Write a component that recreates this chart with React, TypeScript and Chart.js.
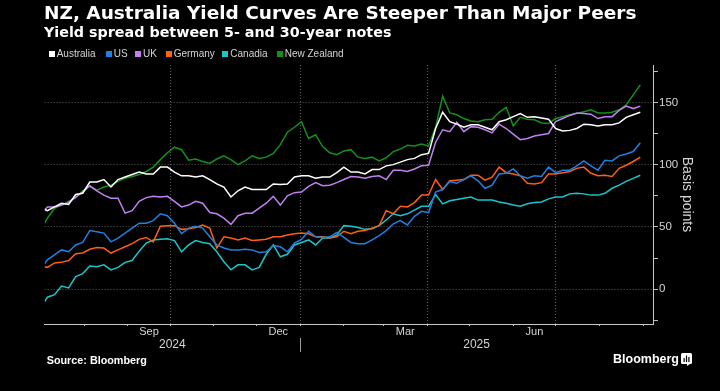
import React, { useEffect, useRef } from 'react';
import { Chart, registerables } from 'chart.js';

Chart.register(...registerables);

// ---- categories: sample day offsets counted from 2024-07-01 ----
const sampleDays: number[] = Array.from({ length: 86 }, (_, i) => (i === 0 ? 3 : i * 5));

// ---- series values (basis points) ----
const australia = [
  64, 63, 66, 69, 68, 76, 77, 86, 86, 88, 82, 88, 90, 92, 94,
  92.5, 92.5, 98, 98, 94, 91, 91, 90, 91, 88, 84.5, 82, 74, 79,
  82, 80, 80, 80, 84.5, 84, 84.5, 90, 91, 91, 89, 90, 90, 93.5,
  98, 94, 94, 92.5, 96, 96, 99, 100, 102, 104, 105, 108, 109, 129,
  142, 134.5, 132.5, 130, 132, 132, 130, 128, 134.5, 136, 138.5, 141, 138, 138.5,
  137.5, 136.5, 129, 127, 127.5, 129, 132.5, 132, 131, 132, 132, 133.5, 138, 140, 142,
];
const us = [
  20.5, 23.5, 27.5, 31.5, 30, 35.5, 37.5, 47, 46, 45, 38, 41, 45, 49, 53,
  53, 55, 60.5, 59, 53, 44.5, 49, 50.5, 49, 42, 35.5, 33, 31.5, 31.5,
  32, 31.5, 29.5, 30, 35, 34, 30, 37, 40, 46.5, 42, 41.5, 42, 45.5,
  41.5, 37.5, 36.5, 36.5, 39.5, 43, 47, 52.5, 55, 51.5, 58.5, 62.5, 61.5, 78,
  80, 86.5, 85, 88, 91, 87, 81, 83.5, 92.5, 93, 96.5, 91, 89, 91,
  90.5, 98, 93.5, 95.5, 95.5, 99, 103, 99, 95.5, 103.5, 103, 107, 108.5, 110.5, 117.5,
];
const uk = [
  63.5, 66, 66, 67.5, 69.5, 74, 78, 83, 79, 75.5, 73, 73, 61, 63, 70.5,
  73.5, 74.5, 74, 74.5, 70.5, 66, 67.5, 70.5, 69, 61.5, 60.5, 57, 52, 59,
  61, 61, 65, 69, 74.5, 67.5, 75, 77.5, 78, 82.5, 85.5, 83, 83.5, 85.5,
  88, 90.5, 90, 89, 90.5, 91, 88, 95.5, 95.5, 94.5, 96.5, 99, 99.5, 118,
  128, 126.5, 134, 126.5, 130.5, 130, 128, 125.5, 132.5, 129, 124.5, 120, 121, 123,
  124, 125, 134.5, 137, 139.5, 141.5, 141, 140.5, 137, 138.5, 138.5, 143.5, 147, 145, 147,
];
const germany = [
  18, 17.5, 21, 21.5, 23, 28.5, 29, 32, 33.5, 33, 29, 31.5, 34, 36.5, 40,
  41.5, 38, 50.5, 51, 51, 48, 48.5, 49.5, 51.5, 49, 33, 42, 41, 39.5,
  41, 39, 39.5, 40, 42, 42, 43.5, 44.5, 45, 44.5, 42, 42, 41, 42,
  46.5, 44.5, 46.5, 47, 49, 51, 63, 60.5, 66.5, 66, 69.5, 75.5, 75.5, 88,
  80, 87, 87.5, 88, 91.5, 91.5, 87.5, 90, 98, 93.5, 92.5, 91, 85, 84.5,
  85.5, 92.5, 92.5, 93.5, 94.5, 97, 98, 93, 91, 91.5, 90.5, 97, 99.5, 102.5, 106,
];
const canada = [
  -10, -6.5, -4.5, 2.5, 1, 10, 12.5, 18.5, 18, 19.5, 15.5, 17.5, 21.5, 23, 30.5,
  37, 39.5, 40, 40.5, 39, 30, 35.5, 39, 37.5, 36.5, 30, 22, 15.5, 19.5,
  19.5, 15.5, 17.5, 28, 35.5, 26, 28, 35.5, 37.5, 39.5, 35.5, 41, 41, 43.5,
  51, 50.5, 49.5, 48, 48.5, 51, 55.5, 60.5, 59, 60.5, 63.5, 66.5, 66.5, 76,
  68.5, 71, 72, 73, 74, 71.5, 71.5, 71.5, 70, 69, 67.5, 66.5, 68.5, 69.5,
  70, 72.5, 74, 74, 76.5, 77, 76.5, 75.5, 75.5, 77, 81, 83.5, 86.5, 89, 91.5,
];
const newZealand = [
  53, 57, 65, 67.5, 70.5, 73, 79, 82.5, 79.5, 82, 83.5, 86.5, 89, 90.5, 92,
  94.5, 98, 104, 109.5, 114, 112, 103.5, 104.5, 102.5, 101, 104.5, 107, 104, 100,
  103, 107, 105, 106, 109, 116, 126, 130, 134.5, 121, 124, 114.5, 109.5, 108,
  111, 112, 106, 105, 106, 103, 105.5, 110.5, 112.5, 115.5, 115, 116.5, 115, 130,
  155, 141.5, 140, 137, 135, 134.5, 136, 136.5, 142, 146, 131, 138, 136.5, 136,
  133.5, 133, 137, 138.5, 140, 141, 142.5, 144, 141.5, 141.5, 142, 144, 148, 156, 164,
];

const seriesNames = ['Australia', 'US', 'UK', 'Germany', 'Canadia', 'New Zealand'];
const seriesValues = [australia, us, uk, germany, canada, newZealand];
const seriesColors = ['#ffffff', '#1f80e0', '#c27ff2', '#ff5e14', '#19c6c9', '#14901c'];

// ---- axis ticks ----
const monthTickDays = [31, 62, 92, 123, 153, 184, 215, 243, 274, 304, 335, 365, 396, 427];
const quarterDays = [92, 184, 274, 365];
const monthLabelDays = [77, 168.5, 258.5, 350];
const monthLabelText = ['Sep', 'Dec', 'Mar', 'Jun'];
const yearLabels = ['2024', '2025'];
const yearLabelDays = [93.5, 309];
const yearBoundaryDay = 184;
const yTickValues = [-25, 0, 25, 50, 75, 100, 125, 150, 175];
const yLabelStep = 50;

const FONT_SANS = '"Liberation Sans", Arial, sans-serif';
const FONT_BOLD = '"DejaVu Sans", "Liberation Sans", sans-serif';
const TEXT_GREY = '#d4d4d4';

const yearPlugin = {
  id: 'yearLabels',
  afterDraw(chart: any) {
    const xs = chart.scales.x;
    const ctx = chart.ctx;
    ctx.save();
    ctx.fillStyle = TEXT_GREY;
    ctx.font = `12px ${FONT_SANS}`;
    ctx.textAlign = 'center';
    ctx.textBaseline = 'middle';
    yearLabels.forEach((t, i) => ctx.fillText(t, xs.getPixelForValue(yearLabelDays[i]), 345));
    const px = Math.round(xs.getPixelForValue(yearBoundaryDay)) + 0.5;
    ctx.strokeStyle = '#9a9a9a';
    ctx.lineWidth = 1;
    ctx.beginPath();
    ctx.moveTo(px, 338);
    ctx.lineTo(px, 352);
    ctx.stroke();
    ctx.restore();
  },
};

function ChartCanvas() {
  const ref = useRef<HTMLCanvasElement | null>(null);
  useEffect(() => {
    if (!ref.current) return;
    const allXTicks = [...monthTickDays, ...monthLabelDays].sort((a, b) => a - b);
    const chart = new Chart(ref.current, {
      type: 'line',
      data: {
        datasets: seriesNames.map((name, k) => ({
          label: name,
          data: sampleDays.map((d, i) => ({ x: d, y: seriesValues[k][i] })),
          borderColor: seriesColors[k],
          backgroundColor: seriesColors[k],
          borderWidth: 1.5,
          pointRadius: 0,
          tension: 0,
          fill: false,
        })),
      },
      options: {
        animation: false,
        responsive: false,
        devicePixelRatio: 1,
        layout: { padding: { left: 44.6, top: 65, right: 0, bottom: 0 } },
        plugins: { legend: { display: false }, tooltip: { enabled: false }, title: { display: false } },
        scales: {
          x: {
            type: 'linear',
            min: 3,
            max: 434,
            afterBuildTicks: (scale: any) => {
              scale.ticks = allXTicks.map((v) => ({ value: v }));
            },
            afterFit: (scale: any) => {
              scale.height = 67;
            },
            ticks: {
              autoSkip: false,
              maxRotation: 0,
              padding: 0,
              color: TEXT_GREY,
              font: { family: FONT_SANS, size: 11, lineHeight: 1 },
              callback: (v: any) => {
                const idx = monthLabelDays.indexOf(Number(v));
                return idx >= 0 ? monthLabelText[idx] : '';
              },
            },
            grid: {
              color: (ctx: any) => (ctx.tick && quarterDays.includes(ctx.tick.value) ? '#5c5c5c' : 'rgba(0,0,0,0)'),
              tickColor: (ctx: any) => (ctx.tick && monthTickDays.includes(ctx.tick.value) ? '#bdbdbd' : 'rgba(0,0,0,0)'),
              tickLength: 2,
              lineWidth: 1,
              tickBorderDash: [],
            },
            border: { display: true, color: '#c8c8c8', width: 1, dash: [1, 2] },
          },
          y: {
            type: 'linear',
            position: 'right',
            min: -28,
            max: 180,
            afterBuildTicks: (scale: any) => {
              scale.ticks = yTickValues.map((v) => ({ value: v }));
            },
            afterFit: (scale: any) => {
              scale.width = 67;
            },
            ticks: {
              autoSkip: false,
              padding: 1,
              color: TEXT_GREY,
              font: { family: FONT_SANS, size: 11.5 },
              callback: (v: any) => (Number(v) % yLabelStep === 0 ? String(v) : ''),
            },
            grid: {
              color: (ctx: any) => (ctx.tick && ctx.tick.value % yLabelStep === 0 ? '#5c5c5c' : 'rgba(0,0,0,0)'),
              tickColor: '#bdbdbd',
              tickLength: 5,
              lineWidth: 1,
              tickBorderDash: [],
            },
            border: { display: true, color: '#c8c8c8', width: 1, dash: [1, 2] },
            title: {
              display: true,
              text: 'Basis points',
              color: TEXT_GREY,
              font: { family: FONT_SANS, size: 14, lineHeight: 1.2 },
              padding: { top: 24.6, bottom: 0 },
            },
          },
        },
      },
      plugins: [yearPlugin],
    } as any);
    return () => chart.destroy();
  }, []);
  return <canvas ref={ref} width={720} height={391} style={{ position: 'absolute', left: 0, top: 0, width: 720, height: 391 }} />;
}

const legendLefts = [48.7, 105.7, 135, 165.7, 222.3, 276.7];

export default function App() {
  return (
    <div style={{ position: 'fixed', left: 0, top: 0, width: 720, height: 391, background: '#000', overflow: 'hidden' }}>
      <ChartCanvas />
      <div
        style={{
          position: 'absolute', left: 44, top: 4.35, fontFamily: FONT_BOLD, fontWeight: 700,
          fontSize: 18.5, lineHeight: '18.5px', color: '#fff', whiteSpace: 'nowrap',
        }}
      >
        NZ, Australia Yield Curves Are Steeper Than Major Peers
      </div>
      <div
        style={{
          position: 'absolute', left: 44, top: 25.2, fontFamily: FONT_BOLD, fontWeight: 700,
          fontSize: 14.3, lineHeight: '14.3px', color: '#fff', whiteSpace: 'nowrap',
        }}
      >
        Yield spread between 5- and 30-year notes
      </div>
      {seriesNames.map((name, k) => (
        <div
          key={name}
          style={{
            position: 'absolute', left: legendLefts[k], top: 49.4, height: 10, display: 'flex',
            alignItems: 'center', whiteSpace: 'nowrap',
          }}
        >
          <span style={{ display: 'inline-block', width: 6, height: 6, background: seriesColors[k], marginRight: 2 }} />
          <span style={{ fontFamily: FONT_SANS, fontSize: 10, lineHeight: '10px', color: TEXT_GREY }}>{name}</span>
        </div>
      ))}
      <div
        style={{
          position: 'absolute', left: 46.7, top: 355, fontFamily: FONT_SANS, fontWeight: 700,
          fontSize: 10.8, lineHeight: '11px', color: '#fff', whiteSpace: 'nowrap',
        }}
      >
        Source: Bloomberg
      </div>
      <div
        style={{
          position: 'absolute', left: 613, top: 352.5, display: 'flex', alignItems: 'center',
          whiteSpace: 'nowrap',
        }}
      >
        <span style={{ fontFamily: FONT_SANS, fontWeight: 700, fontSize: 12.5, lineHeight: '13px', color: '#fff' }}>Bloomberg</span>
        <svg width={11} height={13} viewBox="0 0 11 13" style={{ marginLeft: 2 }}>
          <rect x={0} y={0} width={11} height={11} rx={1.5} fill="#fff" />
          <polygon points="6,11 9,11 6,13" fill="#fff" />
          <rect x={2.5} y={5} width={1.2} height={4} fill="#000" />
          <rect x={4.9} y={2.5} width={1.2} height={6.5} fill="#000" />
          <rect x={7.3} y={4} width={1.2} height={5} fill="#000" />
        </svg>
      </div>
    </div>
  );
}
